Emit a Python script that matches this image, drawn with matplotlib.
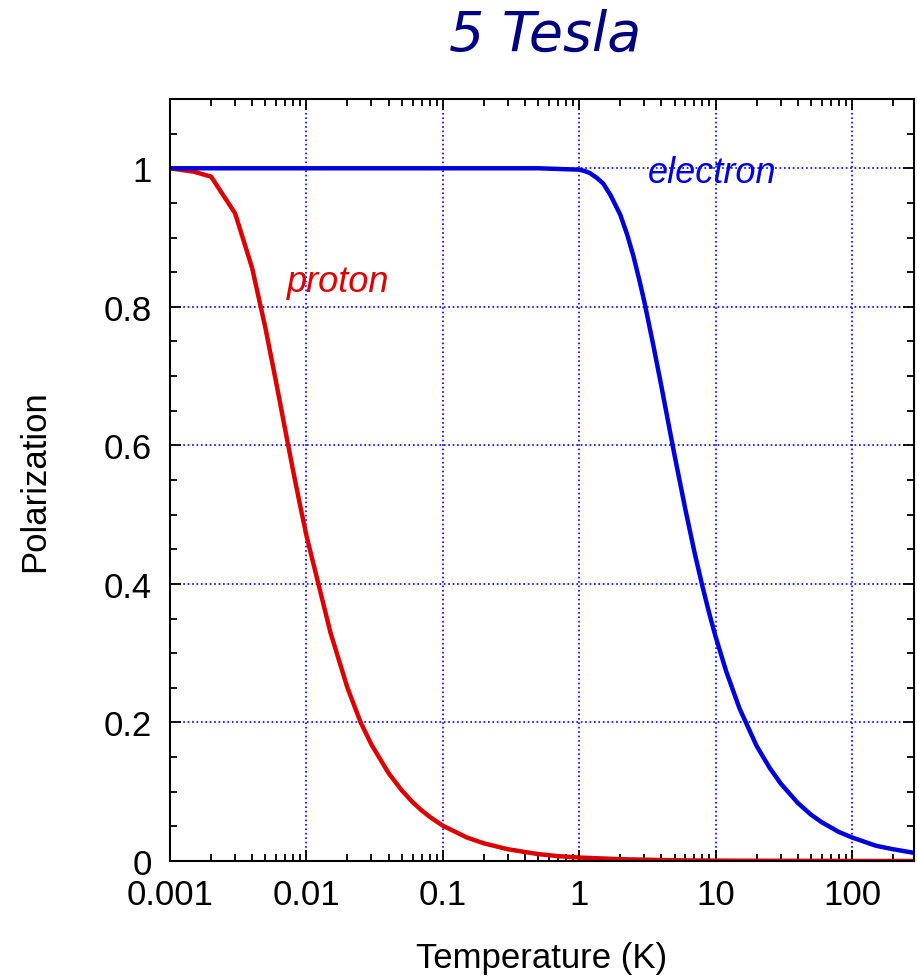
import matplotlib
matplotlib.use("Agg")
import matplotlib.pyplot as plt
from matplotlib.ticker import LogLocator, MultipleLocator, NullFormatter, FixedLocator, FixedFormatter

# polarization vs temperature at 5 T
proton_T = [0.001, 0.0015, 0.002, 0.003, 0.004, 0.005, 0.006, 0.007, 0.008, 0.009,
            0.01, 0.015, 0.02, 0.025, 0.03, 0.04, 0.05, 0.06, 0.07, 0.08, 0.09,
            0.1, 0.15, 0.2, 0.3, 0.4, 0.5, 0.7, 1, 2, 5, 10, 100, 300]
proton_P = [1.0, 0.995, 0.988, 0.935, 0.856, 0.770, 0.691, 0.622, 0.563, 0.513,
            0.47, 0.33, 0.25, 0.20, 0.168, 0.127, 0.102, 0.085, 0.073, 0.064, 0.057,
            0.051, 0.034, 0.0255, 0.017, 0.013, 0.010, 0.007, 0.005, 0.0026, 0.001, 0.0005, 0.0001, 0.0]

electron_T = [0.001, 0.01, 0.1, 0.5, 1, 1.1, 1.2, 1.35, 1.5, 1.7, 2, 2.25, 2.5, 2.75, 3,
              3.5, 4, 4.5, 5, 6, 7, 8, 9, 10, 12, 15, 20, 25, 30, 40, 50, 60, 80, 100,
              150, 200, 300]
electron_P = [1.0, 1.0, 1.0, 1.0, 0.998, 0.996, 0.993, 0.986, 0.978, 0.961, 0.933, 0.904,
              0.873, 0.840, 0.808, 0.744, 0.686, 0.633, 0.586, 0.508, 0.446, 0.397,
              0.357, 0.324, 0.273, 0.220, 0.166, 0.134, 0.112, 0.084, 0.067, 0.056,
              0.042, 0.034, 0.022, 0.017, 0.011]

x_ticks = [0.001, 0.01, 0.1, 1, 10, 100]
x_tick_labels = ["0.001", "0.01", "0.1", "1", "10", "100"]
y_ticks = [0, 0.2, 0.4, 0.6, 0.8, 1]
y_tick_labels = ["0", "0.2", "0.4", "0.6", "0.8", "1"]

fig = plt.figure(figsize=(9.17, 9.79), dpi=100)
ax = fig.add_axes([170 / 917, 117 / 979, 744 / 917, 762 / 979])

ax.plot(proton_T, proton_P, color="#dd0000", lw=3.2)
ax.plot(electron_T, electron_P, color="#0000dd", lw=3.2)

ax.set_xscale("log")
ax.set_xlim(0.001, 285)
ax.set_ylim(0, 1.1)

ax.xaxis.set_major_locator(FixedLocator(x_ticks))
ax.xaxis.set_major_formatter(FixedFormatter(x_tick_labels))
ax.xaxis.set_minor_locator(LogLocator(base=10, subs=range(2, 10)))
ax.xaxis.set_minor_formatter(NullFormatter())
ax.yaxis.set_major_locator(FixedLocator(y_ticks))
ax.yaxis.set_major_formatter(FixedFormatter(y_tick_labels))
ax.yaxis.set_minor_locator(MultipleLocator(0.05))

ax.grid(True, which="major", color="#0000ff", linestyle=":", lw=1.2)
ax.set_axisbelow(True)

font = "Liberation Sans"
ax.tick_params(which="both", direction="in", top=True, right=True, width=1.3,
               labelsize=25)
ax.tick_params(axis="x", pad=12)
ax.tick_params(axis="y", pad=13)
ax.tick_params(which="major", length=8)
ax.tick_params(which="minor", length=5)
for lab in ax.get_xticklabels() + ax.get_yticklabels():
    lab.set_family(font)
for sp in ax.spines.values():
    sp.set_linewidth(1.5)

ax.set_xlabel("Temperature (K)", fontsize=25, family=font, labelpad=22)
ax.set_ylabel("Polarization", fontsize=25, family=font, labelpad=38)

ax.text(0.0072, 0.8225, "proton", color="#dd0000", fontsize=26, family=font,
        style="italic", va="baseline")
ax.text(3.18, 0.98, "electron", color="#0000dd", fontsize=26, family=font,
        style="italic", va="baseline")

fig.text(545 / 917, 1 - 35 / 979, "5 Tesla", color="#000080", fontsize=40,
         style="italic", ha="center", va="center")

fig.savefig("out.png", dpi=100)
